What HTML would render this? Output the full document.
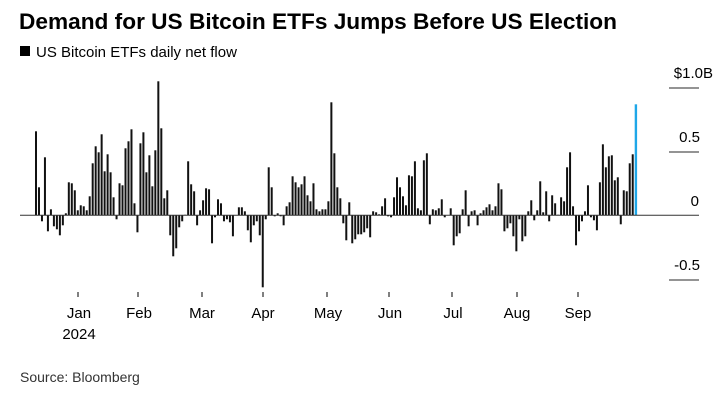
<!DOCTYPE html>
<html><head><meta charset="utf-8"><style>
html,body{margin:0;padding:0;background:#fff;width:726px;height:401px;overflow:hidden}
svg{display:block;font-family:"Liberation Sans",Arial,sans-serif}
</style></head><body>
<svg id="s" width="726" height="401" viewBox="0 0 726 401">
<text x="19" y="29" font-size="22" font-weight="bold" fill="#000" textLength="598" lengthAdjust="spacingAndGlyphs">Demand for US Bitcoin ETFs Jumps Before US Election</text>
<rect x="20" y="46" width="10" height="10" fill="#000"/>
<text x="36" y="57" font-size="15" fill="#000">US Bitcoin ETFs daily net flow</text>
<g stroke="#555" stroke-width="1.3">
<line x1="669" y1="88" x2="699" y2="88"/>
<line x1="669" y1="152" x2="699" y2="152"/>
<line x1="669" y1="280" x2="699" y2="280"/>
</g>
<g font-size="15" fill="#000" text-anchor="end">
<text x="713" y="78">$1.0B</text>
<text x="700" y="142">0.5</text>
<text x="699" y="206">0</text>
<text x="700" y="270">-0.5</text>
</g>
<g id="bars"></g>
<line x1="20" y1="215.3" x2="699" y2="215.3" stroke="#333" stroke-width="1"/>
<g stroke="#000" stroke-width="1">
<line x1="78" y1="292" x2="78" y2="297"/><line x1="138" y1="292" x2="138" y2="297"/><line x1="202" y1="292" x2="202" y2="297"/><line x1="263" y1="292" x2="263" y2="297"/><line x1="327" y1="292" x2="327" y2="297"/><line x1="389" y1="292" x2="389" y2="297"/><line x1="452" y1="292" x2="452" y2="297"/><line x1="517" y1="292" x2="517" y2="297"/><line x1="578" y1="292" x2="578" y2="297"/>
</g>
<g font-size="15" fill="#000" text-anchor="middle">
<text x="79" y="318">Jan</text><text x="139" y="318">Feb</text><text x="202" y="318">Mar</text><text x="263" y="318">Apr</text><text x="328" y="318">May</text><text x="390" y="318">Jun</text><text x="453" y="318">Jul</text><text x="517" y="318">Aug</text><text x="578" y="318">Sep</text>
<text x="79" y="339">2024</text>
</g>
<text x="20" y="382" font-size="14" fill="#333">Source: Bloomberg</text>
</svg>
<script>
var d=[84,28,-6,58,-16,6,-11,-14,-20,-10,2,33,32,25,5,10,9,5,19,52,69,63,81,44,61,43,18,-4,32,30,67,74,86,12,-17,72,83,43,60,29,65,134,87,17,25,-20,-41,-33,-12,-6,0.5,54,31,24,-10,5,15,27,26,-28,-2,16,12,-6,-4,-7,-21,0,8,8,4,-15,
-27,-10,-6,-20,-72,-4,48,28,-1,2,-1,-10,9,13,39,33,28,31,39,20,14,32,6,4,6,6,14,113,62,28,17,-8,-25,13,-28,-24,-19,-19,-17,-13,-22,4,3,1,9,17,-1,-2,18,38,28,19,10,40,39,54,7,5,55,62,-9,6,5,7,16,-2,0,7,-30,-21,-18,6,25,-11,
4,5,-10,2,5,8,11,5,9,32,26,-16,-13,-8,-21,-36,-4,-26,-21,4,15,-5,5,34,3,24,-6,20,12,0.5,18,14,48,63,9,-30,-16,-6,4,30,-2,-5,-15,33,71,48,59,60,35,38,-9,25,24,52,61,111];
var n=d.length,x0=36,x1=635.7,st=(x1-x0)/(n-1),z=215.3,h='';
for(var i=0;i<n;i++){var v=d[i],x=x0+i*st-1,c=i==n-1?'#1ea7e8':'#111',w=i==n-1?2.4:2;
var y=v>=0?z-v:z,hh=Math.abs(v);h+='<rect x="'+x.toFixed(2)+'" y="'+y.toFixed(2)+'" width="'+w+'" height="'+hh+'" fill="'+c+'"/>';}
document.getElementById('bars').innerHTML=h;
</script>
</body></html>
